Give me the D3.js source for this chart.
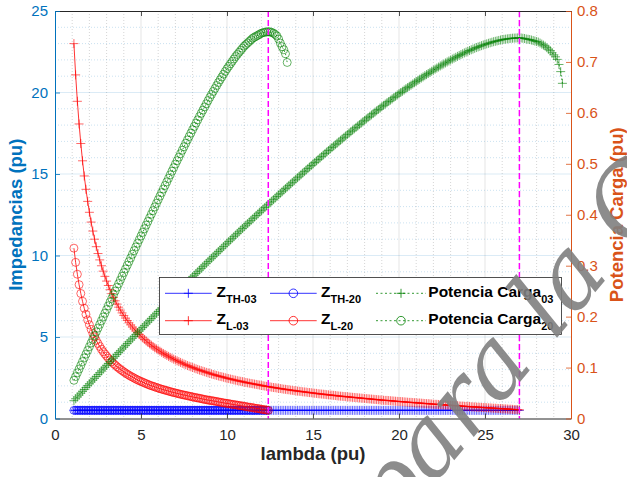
<!DOCTYPE html>
<html>
<head>
<meta charset="utf-8">
<script src="https://cdn.jsdelivr.net/npm/d3@7"></script>
<style>
  body { margin: 0; background: #fff; }
  svg { display: block; }
  text { font-family: "Liberation Sans", Arial, Helvetica, sans-serif; }
</style>
</head>
<body>
<svg id="chart" width="627" height="477"></svg>
<script>
// ---------------- data (pu) ----------------
// load parameter, shared sampling for every series
const lambda = [
  1.1,1.2,1.3,1.4,1.5,1.6,1.7,1.8,1.9,
  2,2.1,2.2,2.3,2.4,2.5,2.6,2.7,2.8,2.9,
  3,3.1,3.2,3.3,3.4,3.5,3.6,3.7,3.8,3.9,
  4,4.1,4.2,4.3,4.4,4.5,4.6,4.7,4.8,4.9,
  5,5.1,5.2,5.3,5.4,5.5,5.6,5.7,5.8,5.9,
  6,6.1,6.2,6.3,6.4,6.5,6.6,6.7,6.8,6.9,
  7,7.1,7.2,7.3,7.4,7.5,7.6,7.7,7.8,7.9,
  8,8.1,8.2,8.3,8.4,8.5,8.6,8.7,8.8,8.9,
  9,9.1,9.2,9.3,9.4,9.5,9.6,9.7,9.8,9.9,
  10,10.1,10.2,10.3,10.4,10.5,10.6,10.7,10.8,10.9,
  11,11.1,11.2,11.3,11.4,11.5,11.6,11.7,11.8,11.9,
  12,12.1,12.2,12.3,12.4,12.5,12.6,12.7,12.8,12.9,
  13,13.1,13.2,13.3,13.4,13.5,13.6,13.7,13.8,13.9,
  14,14.1,14.2,14.3,14.4,14.5,14.6,14.7,14.8,14.9,
  15,15.1,15.2,15.3,15.4,15.5,15.6,15.7,15.8,15.9,
  16,16.1,16.2,16.3,16.4,16.5,16.6,16.7,16.8,16.9,
  17,17.1,17.2,17.3,17.4,17.5,17.6,17.7,17.8,17.9,
  18,18.1,18.2,18.3,18.4,18.5,18.6,18.7,18.8,18.9,
  19,19.1,19.2,19.3,19.4,19.5,19.6,19.7,19.8,19.9,
  20,20.1,20.2,20.3,20.4,20.5,20.6,20.7,20.8,20.9,
  21,21.1,21.2,21.3,21.4,21.5,21.6,21.7,21.8,21.9,
  22,22.1,22.2,22.3,22.4,22.5,22.6,22.7,22.8,22.9,
  23,23.1,23.2,23.3,23.4,23.5,23.6,23.7,23.8,23.9,
  24,24.1,24.2,24.3,24.4,24.5,24.6,24.7,24.8,24.9,
  25,25.1,25.2,25.3,25.4,25.5,25.6,25.7,25.8,25.9,
  26,26.1,26.2,26.3,26.4,26.5,26.6,26.7,26.8,26.9,
  27,27.1,27.2,27.3,27.4,27.5,27.6,27.7,27.8,27.9,
  28,28.1,28.2,28.3,28.4,28.5,28.6,28.7,28.8,28.9,
  29,29.1,29.2,29.3,29.4,29.5
];

// case 03: Thevenin impedance, load impedance, load power
const zTh03 = [
  0.5,0.5,0.5,0.5,0.5,0.5,0.5,0.5,0.5,0.5,0.5,0.5,0.5,0.5,0.5,0.5,0.5,0.5,0.5,0.5,
  0.5,0.5,0.5,0.5,0.5,0.5,0.5,0.5,0.5,0.5,0.5,0.5,0.5,0.5,0.5,0.5,0.5,0.5,0.5,0.5,
  0.5,0.5,0.5,0.5,0.5,0.5,0.5,0.5,0.5,0.5,0.5,0.5,0.5,0.5,0.5,0.5,0.5,0.5,0.5,0.5,
  0.5,0.5,0.5,0.5,0.5,0.5,0.5,0.5,0.5,0.5,0.5,0.5,0.5,0.5,0.5,0.5,0.5,0.5,0.5,0.5,
  0.5,0.5,0.5,0.5,0.5,0.5,0.5,0.5,0.5,0.5,0.5,0.5,0.5,0.5,0.5,0.5,0.5,0.5,0.5,0.5,
  0.5,0.5,0.5,0.5,0.5,0.5,0.5,0.5,0.5,0.5,0.5,0.5,0.5,0.5,0.5,0.5,0.5,0.5,0.5,0.5,
  0.5,0.5,0.5,0.5,0.5,0.5,0.5,0.5,0.5,0.5,0.5,0.5,0.5,0.5,0.5,0.5,0.5,0.5,0.5,0.5,
  0.5,0.5,0.5,0.5,0.5,0.5,0.5,0.5,0.5,0.5,0.5,0.5,0.5,0.5,0.5,0.5,0.5,0.5,0.5,0.5,
  0.5,0.5,0.5,0.5,0.5,0.5,0.5,0.5,0.5,0.5,0.5,0.5,0.5,0.5,0.5,0.5,0.5,0.5,0.5,0.5,
  0.5,0.5,0.5,0.5,0.5,0.5,0.5,0.5,0.5,0.5,0.5,0.5,0.5,0.5,0.5,0.5,0.5,0.5,0.5,0.5,
  0.5,0.5,0.5,0.5,0.5,0.5,0.5,0.5,0.5,0.5,0.5,0.5,0.5,0.5,0.5,0.5,0.5,0.5,0.5,0.5,
  0.5,0.5,0.5,0.5,0.5,0.5,0.5,0.5,0.5,0.5,0.5,0.5,0.5,0.5,0.5,0.5,0.5,0.5,0.5,0.5,
  0.5,0.5,0.5,0.5,0.5,0.5,0.5,0.5,0.5,0.5,0.5,0.5,0.5,0.5,0.5,0.5,0.5,0.5,0.5,0.5
];
const zL03 = [
  23.0,21.08,19.46,18.07,16.87,15.81,14.88,14.06,13.32,
  12.65,12.05,11.5,11.0,10.54,10.12,9.73,9.37,9.04,8.72,
  8.43,8.16,7.9,7.66,7.43,7.22,7.02,6.83,6.65,6.48,
  6.32,6.16,6.01,5.87,5.74,5.61,5.49,5.37,5.26,5.15,
  5.05,4.95,4.85,4.76,4.67,4.58,4.5,4.42,4.34,4.27,
  4.2,4.13,4.06,3.99,3.93,3.87,3.81,3.75,3.7,3.64,
  3.59,3.54,3.49,3.44,3.39,3.34,3.3,3.25,3.21,3.17,
  3.13,3.09,3.05,3.01,2.97,2.94,2.9,2.87,2.83,2.8,
  2.77,2.73,2.7,2.67,2.64,2.61,2.58,2.56,2.53,2.5,
  2.47,2.45,2.42,2.4,2.37,2.35,2.32,2.3,2.28,2.26,
  2.23,2.21,2.19,2.17,2.15,2.13,2.11,2.09,2.07,2.05,
  2.03,2.01,1.99,1.97,1.96,1.94,1.92,1.9,1.89,1.87,
  1.85,1.84,1.82,1.8,1.79,1.77,1.76,1.74,1.73,1.71,
  1.7,1.68,1.67,1.66,1.64,1.63,1.62,1.6,1.59,1.58,
  1.56,1.55,1.54,1.52,1.51,1.5,1.49,1.48,1.46,1.45,
  1.44,1.43,1.42,1.41,1.39,1.38,1.37,1.36,1.35,1.34,
  1.33,1.32,1.31,1.3,1.29,1.28,1.27,1.26,1.25,1.24,
  1.23,1.22,1.21,1.2,1.19,1.18,1.17,1.16,1.15,1.14,
  1.13,1.12,1.11,1.11,1.1,1.09,1.08,1.07,1.06,1.05,
  1.04,1.04,1.03,1.02,1.01,1.0,0.99,0.99,0.98,0.97,
  0.96,0.95,0.95,0.94,0.93,0.92,0.91,0.91,0.9,0.89,
  0.88,0.87,0.87,0.86,0.85,0.84,0.84,0.83,0.82,0.82,
  0.81,0.8,0.79,0.79,0.78,0.77,0.76,0.76,0.75,0.74,
  0.74,0.73,0.72,0.71,0.71,0.7,0.69,0.69,0.68,0.67,
  0.67,0.66,0.65,0.65,0.64,0.63,0.63,0.62,0.61,0.61,
  0.6,0.59,0.59,0.58,0.57,0.57,0.56,0.55,0.55,0.54,
  0.53
];
const pCarga03 = [
  0.035,0.0387,0.0423,0.046,0.0497,0.0534,0.057,0.0607,0.0644,
  0.0681,0.0717,0.0753,0.0789,0.0826,0.0862,0.0898,0.0934,0.0971,0.1007,
  0.1043,0.1079,0.1114,0.115,0.1186,0.1222,0.1258,0.1293,0.1329,0.1365,
  0.1401,0.1436,0.1471,0.1506,0.1542,0.1577,0.1612,0.1647,0.1682,0.1718,
  0.1753,0.1788,0.1822,0.1857,0.1892,0.1927,0.1961,0.1996,0.2031,0.2066,
  0.2101,0.2135,0.2169,0.2203,0.2238,0.2272,0.2306,0.234,0.2375,0.2409,
  0.2443,0.2477,0.2511,0.2544,0.2578,0.2612,0.2646,0.2679,0.2713,0.2747,
  0.2781,0.2814,0.2847,0.288,0.2914,0.2947,0.298,0.3013,0.3047,0.308,
  0.3113,0.3146,0.3178,0.3211,0.3244,0.3277,0.3309,0.3342,0.3375,0.3408,
  0.3441,0.3473,0.3505,0.3537,0.357,0.3602,0.3634,0.3666,0.3699,0.3731,
  0.3763,0.3795,0.3826,0.3858,0.389,0.3922,0.3954,0.3985,0.4017,0.4049,
  0.408,0.4111,0.4142,0.4173,0.4204,0.4235,0.4266,0.4297,0.4328,0.4359,
  0.4391,0.4421,0.4452,0.4483,0.4513,0.4544,0.4575,0.4605,0.4636,0.4666,
  0.4697,0.4727,0.4757,0.4787,0.4817,0.4847,0.4877,0.4907,0.4937,0.4967,
  0.4997,0.5026,0.5056,0.5085,0.5114,0.5144,0.5173,0.5202,0.5231,0.5261,
  0.529,0.5319,0.5347,0.5376,0.5404,0.5433,0.5462,0.549,0.5519,0.5547,
  0.5576,0.5604,0.5631,0.5659,0.5687,0.5715,0.5742,0.577,0.5798,0.5825,
  0.5853,0.588,0.5907,0.5933,0.596,0.5987,0.6014,0.6041,0.6067,0.6094,
  0.6121,0.6147,0.6172,0.6198,0.6223,0.6249,0.6274,0.63,0.6325,0.6351,
  0.6376,0.64,0.6424,0.6449,0.6473,0.6497,0.6521,0.6545,0.6568,0.6592,
  0.6616,0.6639,0.6661,0.6684,0.6706,0.6729,0.6751,0.6773,0.6795,0.6817,
  0.6839,0.6859,0.688,0.69,0.6921,0.6941,0.696,0.698,0.6999,0.7019,
  0.7038,0.7056,0.7074,0.7091,0.7109,0.7127,0.7144,0.716,0.7177,0.7193,
  0.721,0.7224,0.7239,0.7253,0.7268,0.7282,0.7295,0.7307,0.732,0.7332,
  0.7345,0.7355,0.7366,0.7376,0.7387,0.7397,0.7405,0.7413,0.7422,0.743,
  0.7438,0.7443,0.7448,0.7453,0.7458,0.7463,0.7466,0.7468,0.747,0.7472,
  0.7474,0.747,0.7465,0.746,0.745,0.7445,0.744,0.743,0.742,0.741,
  0.74,0.739,0.737,0.735,0.733,0.731,0.728,0.725,0.722,0.718,
  0.714,0.71,0.705,0.695,0.681,0.658
];

// case 20: Thevenin impedance, load impedance, load power
const zTh20 = [
  0.5,0.5,0.5,0.5,0.5,0.5,0.5,0.5,0.5,0.5,0.5,0.5,0.5,0.5,0.5,0.5,0.5,0.5,0.5,0.5,
  0.5,0.5,0.5,0.5,0.5,0.5,0.5,0.5,0.5,0.5,0.5,0.5,0.5,0.5,0.5,0.5,0.5,0.5,0.5,0.5,
  0.5,0.5,0.5,0.5,0.5,0.5,0.5,0.5,0.5,0.5,0.5,0.5,0.5,0.5,0.5,0.5,0.5,0.5,0.5,0.5,
  0.5,0.5,0.5,0.5,0.5,0.5,0.5,0.5,0.5,0.5,0.5,0.5,0.5,0.5,0.5,0.5,0.5,0.5,0.5,0.5,
  0.5,0.5,0.5,0.5,0.5,0.5,0.5,0.5,0.5,0.5,0.5,0.5,0.5,0.5,0.5,0.5,0.5,0.5,0.5,0.5,
  0.5,0.5,0.5,0.5,0.5,0.5,0.5,0.5,0.5,0.5,0.5,0.5,0.5,0.5
];
const zL20 = [
  10.45,9.58,8.85,8.21,7.67,7.19,6.76,6.39,6.05,
  5.75,5.47,5.22,5.0,4.79,4.6,4.42,4.25,4.1,3.96,
  3.83,3.7,3.59,3.48,3.37,3.28,3.18,3.1,3.01,2.94,
  2.86,2.79,2.72,2.66,2.59,2.54,2.48,2.42,2.37,2.32,
  2.27,2.23,2.18,2.14,2.09,2.05,2.01,1.98,1.94,1.9,
  1.87,1.83,1.8,1.77,1.74,1.71,1.68,1.65,1.62,1.59,
  1.57,1.54,1.51,1.49,1.46,1.44,1.42,1.39,1.37,1.35,
  1.32,1.3,1.28,1.26,1.24,1.22,1.19,1.17,1.15,1.13,
  1.11,1.1,1.08,1.06,1.04,1.02,1.0,0.98,0.96,0.94,
  0.93,0.91,0.89,0.87,0.85,0.84,0.82,0.8,0.78,0.77,
  0.75,0.73,0.71,0.69,0.68,0.66,0.64,0.62,0.61,0.59,
  0.57,0.55,0.54,0.52,0.5
];
const pCarga20 = [
  0.075,0.0823,0.0897,0.097,0.1043,0.1117,0.119,0.1263,0.1337,
  0.141,0.1483,0.1556,0.1629,0.1702,0.1775,0.1847,0.192,0.1993,0.2066,
  0.2139,0.2212,0.2284,0.2357,0.2429,0.2502,0.2574,0.2647,0.2719,0.2792,
  0.2864,0.2936,0.3008,0.308,0.3152,0.3224,0.3295,0.3367,0.3439,0.3511,
  0.3583,0.3654,0.3725,0.3797,0.3868,0.3939,0.401,0.4081,0.4153,0.4224,
  0.4295,0.4365,0.4435,0.4505,0.4575,0.4645,0.4714,0.4784,0.4854,0.4924,
  0.4994,0.5062,0.513,0.5199,0.5267,0.5335,0.5402,0.5469,0.5536,0.5603,
  0.567,0.5734,0.5799,0.5863,0.5928,0.5992,0.6054,0.6117,0.6179,0.6242,
  0.6304,0.6362,0.6421,0.6479,0.6538,0.6596,0.665,0.6704,0.6759,0.6813,
  0.6867,0.6915,0.6963,0.701,0.7058,0.7106,0.7147,0.7188,0.7228,0.7269,
  0.731,0.7341,0.7372,0.7404,0.7435,0.7466,0.7486,0.7505,0.7525,0.7544,
  0.7564,0.7575,0.7583,0.7588,0.759,0.7588,0.758,0.7565,0.754,0.751,
  0.745,0.737,0.73,0.724,0.716,0.699
];

// lambda at maximum power transfer for each case
const lambdaMaxPower = [12.4, 27.0];

// axis ticks
const xTicks = [0, 5, 10, 15, 20, 25, 30];
const yLeftTicks = [0, 5, 10, 15, 20, 25];
const yRightTicks = [0, 0.1, 0.2, 0.3, 0.4, 0.5, 0.6, 0.7, 0.8];

// ---------------- chart ----------------
const svg = d3.select("#chart");
const plot = { left: 55, right: 571, top: 11, bottom: 418.5 };

const x = d3.scaleLinear().domain([0, 30]).range([plot.left, plot.right]);
const yL = d3.scaleLinear().domain([0, 25]).range([plot.bottom, plot.top]);
const yR = d3.scaleLinear().domain([0, 0.8]).range([plot.bottom, plot.top]);

const COL = {
  blue: "#0000ff", red: "#ff0000", green: "#008000",
  leftAxis: "#0072bd", rightAxis: "#d95319", dark: "#262626", magenta: "#ff00ff"
};

// grid: major every 5 units, dotted minor every unit
const grid = svg.append("g");
d3.range(1, 30).forEach(v => {
  const major = v % 5 === 0;
  grid.append("line")
    .attr("x1", x(v)).attr("x2", x(v)).attr("y1", plot.top).attr("y2", plot.bottom)
    .attr("stroke", COL.dark).attr("stroke-opacity", major ? 0.15 : 0.28)
    .attr("stroke-width", major ? 0.8 : 0.7)
    .attr("stroke-dasharray", major ? null : "1,2");
});
d3.range(1, 25).forEach(v => {
  const major = v % 5 === 0;
  grid.append("line")
    .attr("x1", plot.left).attr("x2", plot.right).attr("y1", yL(v)).attr("y2", yL(v))
    .attr("stroke", COL.leftAxis).attr("stroke-opacity", major ? 0.18 : 0.3)
    .attr("stroke-width", major ? 0.8 : 0.7)
    .attr("stroke-dasharray", major ? null : "1,2");
});

const plusPath = "M-4.5,0H4.5M0,-4.5V4.5";

function drawSeries(xs, ys, yScale, color, marker, dashed) {
  const g = svg.append("g");
  const pts = xs.map((v, i) => [v, ys[i]]);
  g.append("path")
    .attr("d", d3.line().x(d => x(d[0])).y(d => yScale(d[1]))(pts))
    .attr("fill", "none").attr("stroke", color).attr("stroke-width", 0.8)
    .attr("stroke-dasharray", dashed ? "1.5,2" : null);
  if (marker === "plus") {
    g.selectAll("path.m").data(pts).join("path").attr("class", "m")
      .attr("d", plusPath)
      .attr("transform", d => `translate(${x(d[0])},${yScale(d[1])})`)
      .attr("fill", "none").attr("stroke", color).attr("stroke-width", 0.6);
  } else {
    g.selectAll("circle").data(pts).join("circle")
      .attr("cx", d => x(d[0])).attr("cy", d => yScale(d[1])).attr("r", 4)
      .attr("fill", "none").attr("stroke", color).attr("stroke-width", 0.6);
  }
}

drawSeries(lambda.slice(0, zTh03.length), zTh03, yL, COL.blue, "plus", false);
drawSeries(lambda.slice(0, zL03.length), zL03, yL, COL.red, "plus", false);
drawSeries(lambda.slice(0, zTh20.length), zTh20, yL, COL.blue, "circle", false);
drawSeries(lambda.slice(0, zL20.length), zL20, yL, COL.red, "circle", false);
drawSeries(lambda.slice(0, pCarga03.length), pCarga03, yR, COL.green, "plus", true);
drawSeries(lambda.slice(0, pCarga20.length), pCarga20, yR, COL.green, "circle", true);

// vertical markers at maximum power transfer
svg.append("g").selectAll("line").data(lambdaMaxPower).join("line")
  .attr("x1", d => x(d)).attr("x2", d => x(d))
  .attr("y1", plot.top).attr("y2", plot.bottom)
  .attr("stroke", COL.magenta).attr("stroke-width", 1.5)
  .attr("stroke-dasharray", "6,3");

// axes
function styleAxis(g, color) {
  g.select(".domain").attr("stroke", color).attr("stroke-width", 1);
  g.selectAll(".tick line").attr("stroke", color).attr("stroke-width", 0.8);
  g.selectAll(".tick text").attr("fill", color).style("font-size", "15px");
}
svg.append("g").attr("transform", `translate(0,${plot.bottom})`)
  .call(d3.axisBottom(x).tickValues(xTicks).tickSize(-5).tickSizeOuter(0).tickPadding(11))
  .call(g => styleAxis(g, COL.dark));
svg.append("g").attr("transform", `translate(0,${plot.top})`)
  .call(d3.axisTop(x).tickValues(xTicks).tickSize(-5).tickSizeOuter(0).tickFormat(""))
  .call(g => styleAxis(g, COL.dark));
svg.append("g").attr("transform", `translate(${plot.left},0)`)
  .call(d3.axisLeft(yL).tickValues(yLeftTicks).tickSize(-5).tickSizeOuter(0).tickPadding(7))
  .call(g => styleAxis(g, COL.leftAxis));
svg.append("g").attr("transform", `translate(${plot.right},0)`)
  .call(d3.axisRight(yR).tickValues(yRightTicks).tickSize(-5).tickSizeOuter(0).tickPadding(6)
    .tickFormat(d3.format("~g")))
  .call(g => styleAxis(g, COL.rightAxis));

// axis titles
svg.append("text").attr("x", (plot.left + plot.right) / 2).attr("y", 460)
  .attr("text-anchor", "middle").attr("fill", COL.dark)
  .style("font-size", "18.5px").style("font-weight", "bold").text("lambda (pu)");
svg.append("text").attr("transform", `translate(22,${(plot.top + plot.bottom) / 2}) rotate(-90)`)
  .attr("text-anchor", "middle").attr("fill", COL.leftAxis)
  .style("font-size", "18.5px").style("font-weight", "bold").text("Impedancias (pu)");
svg.append("text").attr("transform", `translate(623,${(plot.top + plot.bottom) / 2}) rotate(-90)`)
  .attr("text-anchor", "middle").attr("fill", COL.rightAxis)
  .style("font-size", "18.5px").style("font-weight", "bold").text("Potencia Carga (pu)");

// legend
const legendItems = [
  { label: "Z", sub: "TH-03", color: COL.blue, marker: "plus", dashed: false, col: 0, row: 0 },
  { label: "Z", sub: "L-03", color: COL.red, marker: "plus", dashed: false, col: 0, row: 1 },
  { label: "Z", sub: "TH-20", color: COL.blue, marker: "circle", dashed: false, col: 1, row: 0 },
  { label: "Z", sub: "L-20", color: COL.red, marker: "circle", dashed: false, col: 1, row: 1 },
  { label: "Potencia Carga", sub: "03", color: COL.green, marker: "plus", dashed: true, col: 2, row: 0 },
  { label: "Potencia Carga", sub: "20", color: COL.green, marker: "circle", dashed: true, col: 2, row: 1 }
];
const legend = svg.append("g");
legend.append("rect").attr("x", 159.5).attr("y", 277.5).attr("width", 402).attr("height", 57)
  .attr("fill", "#fff").attr("stroke", COL.dark).attr("stroke-width", 0.8);
const colLine = [[165, 211.7], [270, 316.7], [376, 426]];
const colText = [216.5, 321, 428.3];
const rowY = [293.3, 320.7];
legendItems.forEach(it => {
  const [a, b] = colLine[it.col];
  const yy = rowY[it.row];
  legend.append("line").attr("x1", a).attr("x2", b).attr("y1", yy).attr("y2", yy)
    .attr("stroke", it.color).attr("stroke-width", 0.8)
    .attr("stroke-dasharray", it.dashed ? "2,2.5" : null);
  const cx = (a + b) / 2;
  if (it.marker === "plus") {
    legend.append("path").attr("d", plusPath).attr("transform", `translate(${cx},${yy})`)
      .attr("fill", "none").attr("stroke", it.color).attr("stroke-width", 0.8);
  } else {
    legend.append("circle").attr("cx", cx).attr("cy", yy).attr("r", 4.3)
      .attr("fill", "none").attr("stroke", it.color).attr("stroke-width", 0.8);
  }
  const t = legend.append("text").attr("x", colText[it.col]).attr("y", yy + 3.5)
    .attr("fill", "#000").style("font-weight", "bold").style("font-size", "15.5px");
  t.append("tspan").text(it.label);
  t.append("tspan").attr("dy", 6).style("font-size", "11px").text(it.sub);
});

// watermark
svg.append("text")
  .attr("transform", "translate(394,532) rotate(-50)")
  .attr("fill", "#7f7f7f").attr("fill-opacity", 0.9)
  .style("font-family", "'DejaVu Serif', 'Liberation Serif', serif")
  .style("font-style", "italic").style("font-size", "95px")
  .text("para la Clase");
</script>
</body>
</html>
